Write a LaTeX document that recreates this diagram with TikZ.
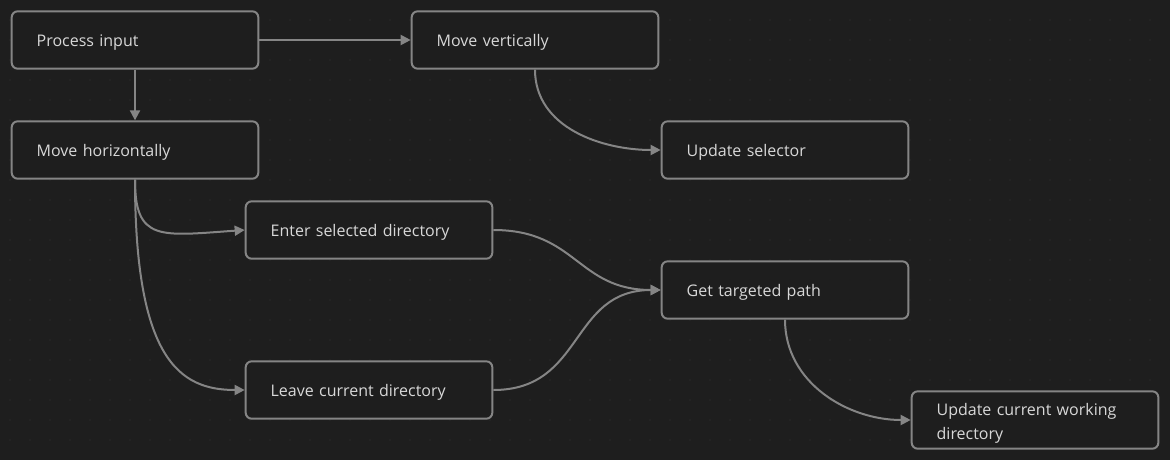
\documentclass[tikz,border=0pt]{standalone}
\usepackage{fontspec}
\setmainfont{Open Sans}
\usetikzlibrary{arrows.meta}
\definecolor{bgdark}{HTML}{1E1E1E}
\definecolor{griddot}{HTML}{343434}
\definecolor{edgegray}{HTML}{858585}
\definecolor{txtgray}{HTML}{D8D8D8}

\begin{document}
\begin{tikzpicture}[x=0.75pt,y=-0.75pt,
  box/.style={draw=edgegray,fill=bgdark,line width=1.5pt,rounded corners=4.5pt,
    minimum width=185pt,minimum height=43pt,inner xsep=18.75pt,
    text height=11pt,text depth=1pt,
    text width=147.5pt,align=left,text=txtgray,font=\fontsize{12}{18}\selectfont},
  flow/.style={draw=edgegray,line width=1.5pt,-{Triangle[length=7.5pt,width=7.5pt]}}]
  % Background and dot grid
  \fill[bgdark] (0,0) rectangle (1170,460);
  \foreach \gx in {10,30,...,1150}
    \foreach \gy in {20,40,...,440}
      \fill[griddot] (\gx,\gy) circle (0.45pt);

  % Nodes
  \node[box] (procin) at (135,40) {Process input};
  \node[box] (movevert) at (535,40) {Move vertically};
  \node[box] (movehor) at (135,150) {Move horizontally};
  \node[box] (updsel) at (785,150) {Update selector};
  \node[box] (enterdir) at (369,230) {Enter selected directory};
  \node[box] (getpath) at (785,290) {Get targeted path};
  \node[box] (leavedir) at (369,390) {Leave current directory};
  \node[box,text depth=18.5pt] (updcwd) at (1035,420) {Update current working\\directory};

  % Straight edges
  \draw[flow] (procin.east) -- (movevert.west);
  \draw[flow] (procin.south) -- (movehor.north);

  % Curved edges
  \draw[flow] (movevert.south) to[out=-90,in=180] (updsel.west);
  \draw[flow] (movehor.south) .. controls +(0,62) and +(-85,6) .. (enterdir.west);
  \draw[flow] (movehor.south) .. controls +(0,180) and +(-65,0) .. (leavedir.west);
  \draw[flow] (enterdir.east) to[out=0,in=180,looseness=1.2] (getpath.west);
  \draw[flow] (leavedir.east) to[out=0,in=180,looseness=1.2] (getpath.west);
  \draw[flow] (getpath.south) to[out=-90,in=180] (updcwd.west);
\end{tikzpicture}
\end{document}
